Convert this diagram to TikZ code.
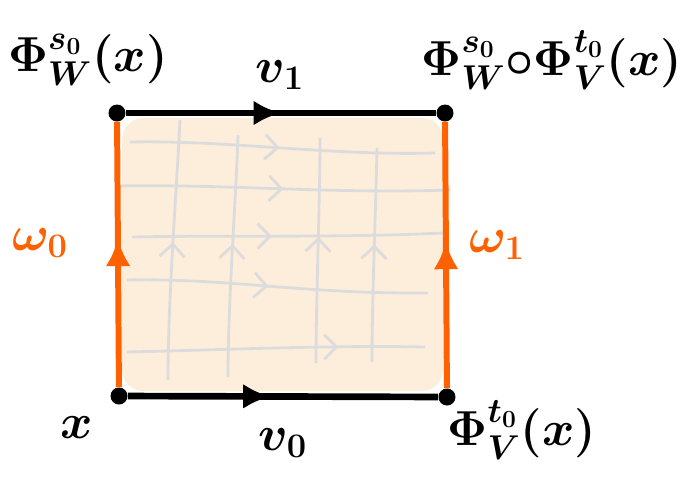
\RequirePackage{fix-cm}
\documentclass[tikz,border=0pt]{standalone}
\usepackage{amsmath,amssymb}
\usetikzlibrary{positioning,arrows.meta,decorations.markings}
\definecolor{flowfill}{HTML}{FDEEDB}
\definecolor{flowgray}{HTML}{DCDCDC}
\definecolor{curveorange}{HTML}{FF6000}
\tikzset{
  corner/.style={circle,fill=black,inner sep=0pt,minimum size=3.4mm},
  flowlab/.style={font=\fontsize{28}{33}\selectfont\boldmath,inner sep=1pt},
  sidelab/.style={font=\fontsize{28}{33}\selectfont\boldmath,inner sep=1pt,text=curveorange},
  midarr/.style={postaction={decorate},decoration={markings,
      mark=at position #1 with {\arrow{Latex[length=5.5mm,width=5mm]}}}},
  vedge/.style={line width=3.8pt,black},
  wedge/.style={line width=3.4pt,curveorange},
  gridline/.style={draw=flowgray,line width=1.6pt,postaction={decorate},
    decoration={markings,mark=at position #1 with {\arrow{Straight Barb[length=2.5mm,width=5mm,line width=1.6pt]}}}},
  plainline/.style={draw=flowgray,line width=1.6pt}
}

\begin{document}
\begin{tikzpicture}[x=0.02cm,y=-0.02cm]
  \useasboundingbox (0,0) rectangle (687,485);
  % shaded square
  \fill[flowfill,rounded corners=12pt] (122,118) rectangle (443,391);
  % flow lines of V (horizontal)
  \draw[gridline=0.49] (130,142) .. controls (230,140) and (330,156) .. (435,153);
  \draw[gridline=0.50] (117,186) .. controls (230,184) and (330,194) .. (450,190);
  \draw[gridline=0.45] (132,237) .. controls (230,235) and (340,238) .. (443,233);
  \draw[gridline=0.47] (127,280) .. controls (230,278) and (300,294) .. (428,293);
  \draw[gridline=0.71] (127,352) .. controls (220,350) and (330,345) .. (425,347);
  % flow lines of W (vertical)
  \draw[gridline=0.53] (168,380) .. controls (168,300) and (176,200) .. (180,120);
  \draw[gridline=0.55] (228,377) .. controls (228,300) and (236,200) .. (238,135);
  \draw[gridline=0.56] (316,363) .. controls (316,300) and (320,200) .. (320,138);
  \draw[gridline=0.55] (372,362) .. controls (372,300) and (376,200) .. (377,148);
  % corners
  \node[corner] (x0) at (119,396) {};
  \node[corner] (x1) at (447,397) {};
  \node[corner] (y0) at (117,113) {};
  \node[corner] (y1) at (445,113) {};
  % sides
  \draw[wedge,midarr=0.56] (x0) -- (y0);
  \draw[wedge,midarr=0.55] (x1) -- (y1);
  \draw[vedge,midarr=0.50] (y0) -- (y1);
  \draw[vedge,midarr=0.46] (x0) -- (x1);
  % labels
  \node[flowlab] (lx0) at (77,428) {$x$};
  \node[flowlab] (lx1) at (522,430) {$\Phi_V^{t_0}(x)$};
  \node[flowlab] (ly0) at (88,60) {$\Phi_W^{s_0}(x)$};
  \node[flowlab] (ly1) at (552,60) {$\Phi_W^{s_0}{\circ}\Phi_V^{t_0}(x)$};
  \node[flowlab] (lv1) at (280,75) {$v_1$};
  \node[flowlab] (lv0) at (283,443) {$v_0$};
  \node[sidelab] (lw0) at (40,243) {$\omega_0$};
  \node[sidelab] (lw1) at (497,245) {$\omega_1$};
\end{tikzpicture}
\end{document}
